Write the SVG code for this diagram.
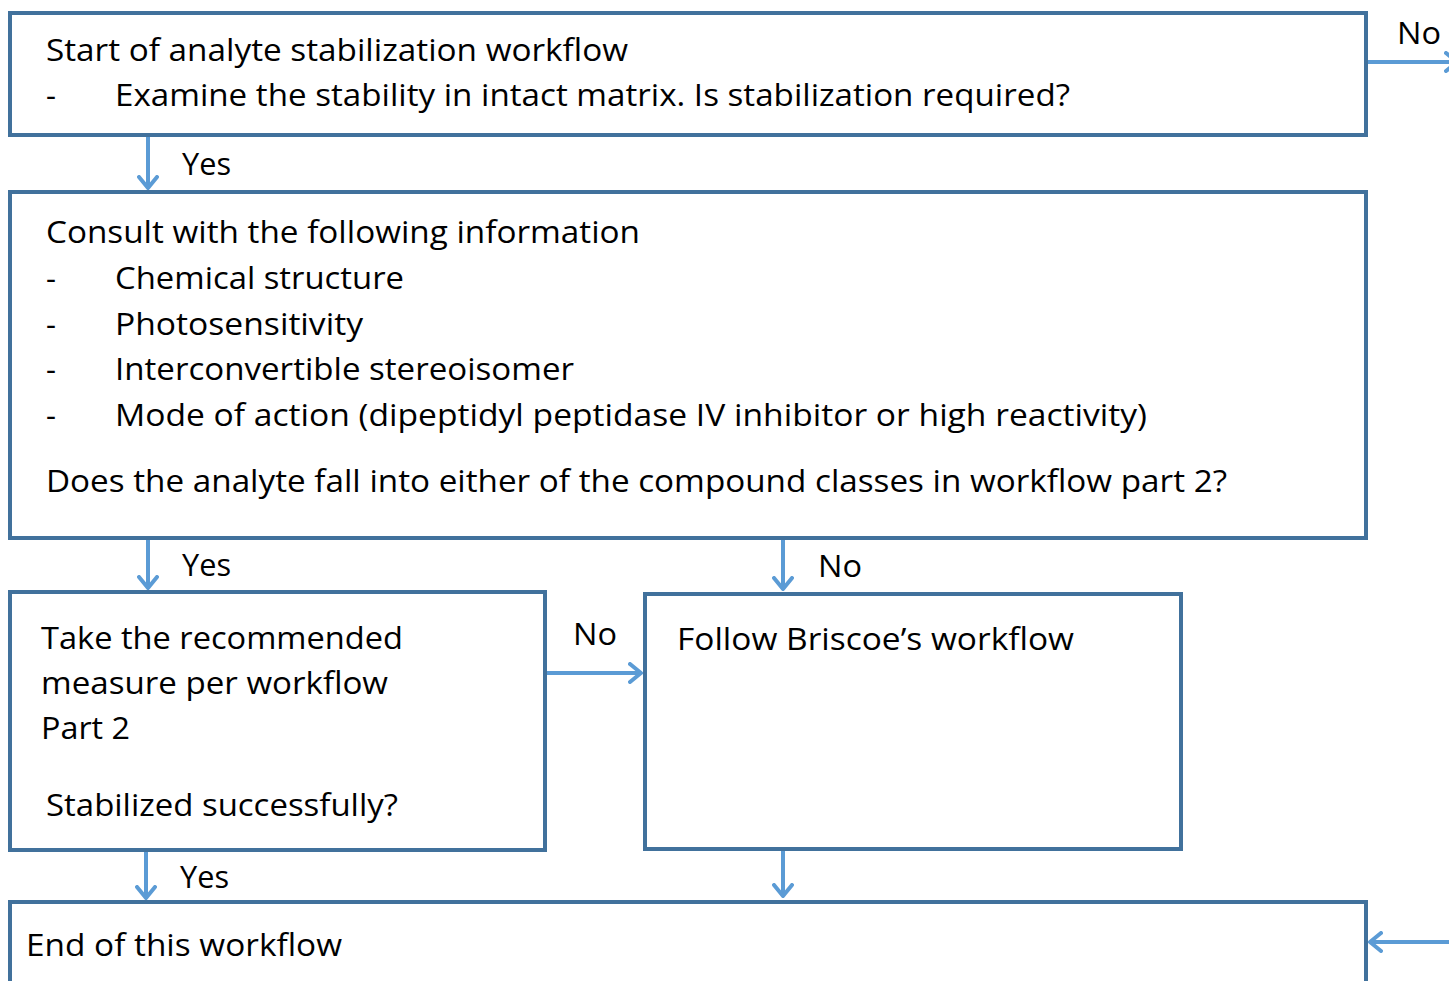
<svg xmlns="http://www.w3.org/2000/svg" width="1449" height="981" viewBox="0 0 1449 981">
<defs>
<marker id="ah" viewBox="0 0 16 22" refX="13" refY="11" markerWidth="16" markerHeight="22" markerUnits="userSpaceOnUse" orient="auto">
<path d="M2,2 L13,11 L2,20" fill="none" stroke="#5B9BD5" stroke-width="4" stroke-linecap="round" stroke-linejoin="round"/>
</marker>
<style>
.box{fill:#fff;stroke:#41719C;stroke-width:4}
.t{font-family:"Open Sans","Liberation Sans",sans-serif;font-size:31px;fill:#000}
.c{stroke:#5B9BD5;stroke-width:4;fill:none;marker-end:url(#ah)}
</style>
</defs>
<rect width="1449" height="981" fill="#fff"/>
<g id="n1">
<rect class="box" x="10" y="13" width="1356" height="122"/>
<text class="t" x="46" y="61" textLength="582" lengthAdjust="spacingAndGlyphs">Start of analyte stabilization workflow</text>
<text class="t" x="46" y="106">-</text>
<text class="t" x="115" y="106" textLength="955" lengthAdjust="spacingAndGlyphs">Examine the stability in intact matrix. Is stabilization required?</text>
</g>
<g id="n2">
<rect class="box" x="10" y="192" width="1356" height="346"/>
<text class="t" x="46" y="243" textLength="594" lengthAdjust="spacingAndGlyphs">Consult with the following information</text>
<text class="t" x="46" y="289">-</text>
<text class="t" x="115" y="289" textLength="289" lengthAdjust="spacingAndGlyphs">Chemical structure</text>
<text class="t" x="46" y="335">-</text>
<text class="t" x="115" y="335" textLength="248" lengthAdjust="spacingAndGlyphs">Photosensitivity</text>
<text class="t" x="46" y="380">-</text>
<text class="t" x="115" y="380" textLength="459" lengthAdjust="spacingAndGlyphs">Interconvertible stereoisomer</text>
<text class="t" x="46" y="426">-</text>
<text class="t" x="115" y="426" textLength="1032" lengthAdjust="spacingAndGlyphs">Mode of action (dipeptidyl peptidase IV inhibitor or high reactivity)</text>
<text class="t" x="46" y="492" textLength="1181" lengthAdjust="spacingAndGlyphs">Does the analyte fall into either of the compound classes in workflow part 2?</text>
</g>
<g id="n3">
<rect class="box" x="10" y="592" width="535" height="258"/>
<text class="t" x="41" y="649" textLength="362" lengthAdjust="spacingAndGlyphs">Take the recommended</text>
<text class="t" x="41" y="694" textLength="347" lengthAdjust="spacingAndGlyphs">measure per workflow</text>
<text class="t" x="41" y="739" textLength="89" lengthAdjust="spacingAndGlyphs">Part 2</text>
<text class="t" x="46" y="816" textLength="352" lengthAdjust="spacingAndGlyphs">Stabilized successfully?</text>
</g>
<g id="n4">
<rect class="box" x="645" y="594" width="536" height="255"/>
<text class="t" x="677" y="650" textLength="397" lengthAdjust="spacingAndGlyphs">Follow Briscoe’s workflow</text>
</g>
<g id="n5">
<rect class="box" x="10" y="902" width="1356" height="100"/>
<text class="t" x="26" y="956" textLength="316" lengthAdjust="spacingAndGlyphs">End of this workflow</text>
</g>
<g id="connectors">
<line class="c" x1="148" y1="137" x2="148" y2="188"/>
<line class="c" x1="148" y1="540" x2="148" y2="588"/>
<line class="c" x1="783" y1="540" x2="783" y2="589"/>
<line class="c" x1="547" y1="673" x2="641" y2="673"/>
<line class="c" x1="146" y1="852" x2="146" y2="898"/>
<line class="c" x1="783" y1="851" x2="783" y2="896"/>
<line class="c" x1="1368" y1="62" x2="1457" y2="62"/>
<line class="c" x1="1452" y1="942" x2="1370" y2="942"/>
<text class="t" x="182" y="175" textLength="49" lengthAdjust="spacingAndGlyphs">Yes</text>
<text class="t" x="182" y="576" textLength="49" lengthAdjust="spacingAndGlyphs">Yes</text>
<text class="t" x="818" y="577" textLength="44" lengthAdjust="spacingAndGlyphs">No</text>
<text class="t" x="573" y="645" textLength="44" lengthAdjust="spacingAndGlyphs">No</text>
<text class="t" x="180" y="888" textLength="49" lengthAdjust="spacingAndGlyphs">Yes</text>
<text class="t" x="1397" y="44" textLength="44" lengthAdjust="spacingAndGlyphs">No</text>
</g>
</svg>
